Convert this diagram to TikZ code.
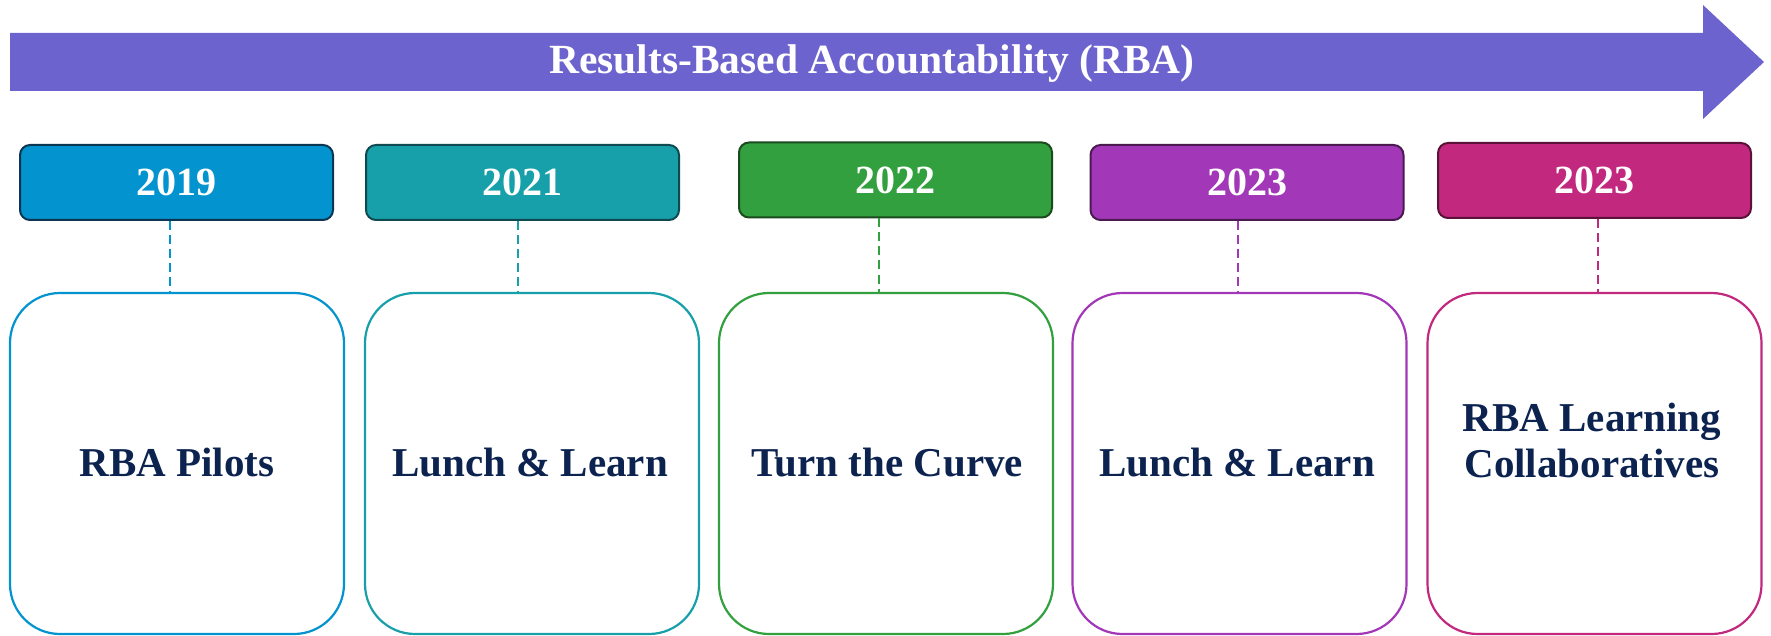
\documentclass[tikz,border=0pt]{standalone}
\usepackage{fontspec}
\setmainfont{Liberation Serif}
\usetikzlibrary{calc}
\definecolor{arrowc}{HTML}{6C63CF}
\definecolor{textc}{HTML}{0C2350}
\definecolor{cA}{HTML}{0393CF}\definecolor{dA}{HTML}{0B3550}
\definecolor{cB}{HTML}{17A0AA}\definecolor{dB}{HTML}{0E4A50}
\definecolor{cC}{HTML}{33A03F}\definecolor{dC}{HTML}{1A4A1E}
\definecolor{cD}{HTML}{A238B8}\definecolor{dD}{HTML}{4A1A50}
\definecolor{cE}{HTML}{C2287E}\definecolor{dE}{HTML}{5A1238}
\tikzset{
  yearbox/.style 2 args={draw=#2, fill=#1, line width=2pt, rounded corners=10pt,
    minimum width=313pt, minimum height=75pt, inner sep=0pt, text=white,
    font=\fontsize{40}{46}\selectfont\bfseries},
  bigbox/.style={draw=#1, line width=2.2pt, rounded corners=50pt, fill=white,
    minimum width=334pt, minimum height=341pt, inner sep=0pt},
  lbl/.style={text=textc, font=\fontsize{41}{46}\selectfont\bfseries, align=center, inner sep=0pt},
  link/.style={draw=#1, line width=2pt, dash pattern=on 9pt off 5pt},
}
\begin{document}
\begin{tikzpicture}[x=1pt,y=-1pt]
\useasboundingbox (0,0) rectangle (1771,636);
% main arrow
\fill[arrowc] (10,33) -- (1703,33) -- (1703,5) -- (1764,62) -- (1703,119) -- (1703,91) -- (10,91) -- cycle;
\node[text=white, font=\fontsize{41.5}{46}\selectfont\bfseries, inner sep=0pt, anchor=base] (title) at (872,74) {Results-Based Accountability (RBA)};
% year boxes
\node[yearbox={cA}{dA}] (y1) at (176.5,182.5) {2019};
\node[yearbox={cB}{dB}] (y2) at (522.5,182.5) {2021};
\node[yearbox={cC}{dC}] (y3) at (895.5,180) {2022};
\node[yearbox={cD}{dD}] (y4) at (1247,182.5) {2023};
\node[yearbox={cE}{dE}] (y5) at (1594.5,180.5) {2023};
% big boxes
\node[bigbox=cA] (b1) at (177,463.5) {};
\node[bigbox=cB] (b2) at (532,463.5) {};
\node[bigbox=cC] (b3) at (886,463.5) {};
\node[bigbox=cD] (b4) at (1239.5,463.5) {};
\node[bigbox=cE] (b5) at (1594.5,463.5) {};
% labels
\node[lbl, anchor=base] (l1) at (177,476) {RBA Pilots};
\node[lbl, anchor=base] (l2) at (530,476) {Lunch \& Learn};
\node[lbl, anchor=base] (l3) at (887,476) {Turn the Curve};
\node[lbl, anchor=base] (l4) at (1237,476) {Lunch \& Learn};
\node[lbl] (l5) at (1592,440) {RBA Learning\\Collaboratives};
% dashed links
\draw[link=cA] (y1.south -| 170,0) -- (b1.north -| 170,0);
\draw[link=cB] (y2.south -| 518,0) -- (b2.north -| 518,0);
\draw[link=cC] (y3.south -| 879,0) -- (b3.north -| 879,0);
\draw[link=cD] (y4.south -| 1238,0) -- (b4.north -| 1238,0);
\draw[link=cE] (y5.south -| 1598,0) -- (b5.north -| 1598,0);
\end{tikzpicture}
\end{document}
